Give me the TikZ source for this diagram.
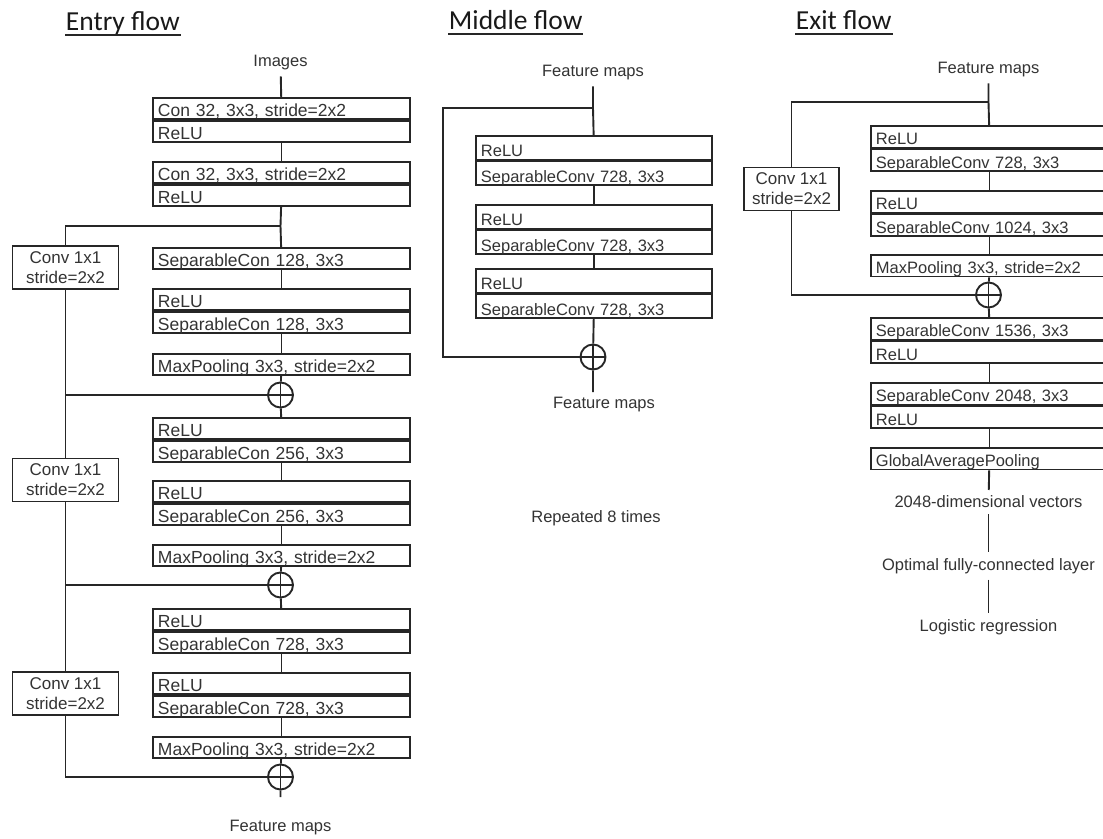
\documentclass[tikz,border=0pt]{standalone}
\usepackage{fontspec}
\setmainfont{Liberation Sans}
\newfontfamily\titlefont{Carlito}
\usetikzlibrary{positioning}

\begin{document}
\begin{tikzpicture}[x=1pt,y=-1pt,line width=1.9pt,color=black!85,text=black!80,
    ecell/.style={draw,anchor=north west,text width=247pt,align=left,inner xsep=5pt,inner ysep=1pt,
        text height=17.5pt,text depth=1.5pt,font=\fontsize{17.5}{20}\selectfont},
    mcell/.style={draw,anchor=north west,text width=226pt,align=left,inner xsep=5pt,inner ysep=1pt,
        text height=20pt,text depth=1.5pt,font=\fontsize{16.5}{19}\selectfont},
    xcell/.style={draw,anchor=north west,text width=227pt,align=left,inner xsep=5pt,inner ysep=1pt,
        text height=18pt,text depth=1.5pt,font=\fontsize{16.5}{19}\selectfont},
    conv/.style={draw,align=center,minimum width=#1,minimum height=43pt,inner sep=1pt,
        font=\fontsize{17}{20}\selectfont},
    add/.style={draw,circle,minimum size=25pt,inner sep=0pt,
        path picture={\draw (path picture bounding box.north) -- (path picture bounding box.south)
            (path picture bounding box.west) -- (path picture bounding box.east);}},
    lbl/.style={font=\fontsize{16.5}{19}\selectfont,inner xsep=2pt,inner ysep=5pt},
    title/.style={font=\titlefont\fontsize{27.5}{30}\selectfont,anchor=base west,inner sep=0pt,text=black!90},
    uline/.style={line width=1.4pt}]
\useasboundingbox (0,0) rectangle (1103,838);
\clip (0,0) rectangle (1103,838);

% entry flow
\node[title] (tentry) at (65,30) {Entry flow};
\draw[uline] ([yshift=-5pt]tentry.base west) -- ([yshift=-5pt]tentry.base east);
\node[lbl] (img) at (280.5,63) {Images};
\node[ecell] (b1a) at (152,97) {Con 32, 3x3, stride=2x2};
\node[ecell,below=0pt of b1a] (b1b) {ReLU};
\node[ecell] (b2a) at (152,161) {Con 32, 3x3, stride=2x2};
\node[ecell,below=0pt of b2a] (b2b) {ReLU};
\coordinate (j1) at (280.5,226);
\node[ecell] (s1) at (152,247) {SeparableCon 128, 3x3};
\node[ecell] (b3a) at (152,288) {ReLU};
\node[ecell,below=0pt of b3a] (b3b) {SeparableCon 128, 3x3};
\node[ecell] (mp1) at (152,353) {MaxPooling 3x3, stride=2x2};
\node[add] (add1) at (280.5,395) {};
\node[ecell] (b4a) at (152,417) {ReLU};
\node[ecell,below=0pt of b4a] (b4b) {SeparableCon 256, 3x3};
\node[ecell] (b5a) at (152,480) {ReLU};
\node[ecell,below=0pt of b5a] (b5b) {SeparableCon 256, 3x3};
\node[ecell] (mp2) at (152,544) {MaxPooling 3x3, stride=2x2};
\node[add] (add2) at (280.5,585) {};
\node[ecell] (b6a) at (152,608) {ReLU};
\node[ecell,below=0pt of b6a] (b6b) {SeparableCon 728, 3x3};
\node[ecell] (b7a) at (152,672) {ReLU};
\node[ecell,below=0pt of b7a] (b7b) {SeparableCon 728, 3x3};
\node[ecell] (mp3) at (152,736) {MaxPooling 3x3, stride=2x2};
\node[add] (add3) at (280.5,777) {};
\coordinate (eend) at (280.5,797);
\node[lbl] (fmE) at (280.5,828) {Feature maps};
\node[conv=106pt] (cv1) at (65.5,267.5) {Conv 1x1\\stride=2x2};
\node[conv=106pt] (cv2) at (65.5,480) {Conv 1x1\\stride=2x2};
\node[conv=106pt] (cv3) at (65.5,693.5) {Conv 1x1\\stride=2x2};

\draw (img) -- (b1a);
\draw (b1b) -- (b2a);
\draw (b2b) -- (j1) -- (s1);
\draw (j1) -| (cv1);
\draw (s1) -- (b3a);
\draw (b3b) -- (mp1);
\draw (mp1) -- (add1) -- (b4a);
\draw (cv1) |- (add1);
\draw (cv1) -- (cv2);
\draw (b4b) -- (b5a);
\draw (b5b) -- (mp2);
\draw (mp2) -- (add2) -- (b6a);
\draw (cv2) |- (add2);
\draw (cv2) -- (cv3);
\draw (b6b) -- (b7a);
\draw (b7b) -- (mp3);
\draw (mp3) -- (add3) -- (eend);
\draw (cv3) |- (add3);

% middle flow
\node[title] (tmid) at (448,29) {Middle flow};
\draw[uline] ([yshift=-5pt]tmid.base west) -- ([yshift=-5pt]tmid.base east);
\node[lbl] (fm2) at (593,73) {Feature maps};
\coordinate (j2) at (593,108);
\node[mcell] (m1a) at (475,135) {ReLU};
\node[mcell,below=0pt of m1a] (m1b) {SeparableConv 728, 3x3};
\node[mcell] (m2a) at (475,204) {ReLU};
\node[mcell,below=0pt of m2a] (m2b) {SeparableConv 728, 3x3};
\node[mcell] (m3a) at (475,268) {ReLU};
\node[mcell,below=0pt of m3a] (m3b) {SeparableConv 728, 3x3};
\node[add] (add4) at (593,357) {};
\coordinate (mskip) at (443,357);
\coordinate (mend) at (593,392);
\node[lbl] (fm3) at (604,405) {Feature maps};
\node[lbl] (rep) at (596,518) {Repeated 8 times};

\draw (fm2) -- (j2) -- (m1a);
\draw (j2) -| (mskip) -- (add4);
\draw (m1b) -- (m2a);
\draw (m2b) -- (m3a);
\draw (m3b) -- (add4) -- (mend);

% exit flow
\node[title] (texit) at (795,29) {Exit flow};
\draw[uline] ([yshift=-5pt]texit.base west) -- ([yshift=-5pt]texit.base east);
\node[lbl] (fm4) at (988.5,70) {Feature maps};
\coordinate (j3) at (988.5,102);
\node[xcell] (e1a) at (870,125) {ReLU};
\node[xcell,below=0pt of e1a] (e1b) {SeparableConv 728, 3x3};
\node[xcell] (e2a) at (870,190) {ReLU};
\node[xcell,below=0pt of e2a] (e2b) {SeparableConv 1024, 3x3};
\node[xcell] (emp) at (870,254) {MaxPooling 3x3, stride=2x2};
\node[add] (add5) at (988.5,295) {};
\node[conv=95pt] (cv4) at (791.5,189) {Conv 1x1\\stride=2x2};
\node[xcell] (e3a) at (870,317) {SeparableConv 1536, 3x3};
\node[xcell,below=0pt of e3a] (e3b) {ReLU};
\node[xcell] (e4a) at (870,382) {SeparableConv 2048, 3x3};
\node[xcell,below=0pt of e4a] (e4b) {ReLU};
\node[xcell] (gap) at (870,447) {GlobalAveragePooling};
\node[lbl] (vec) at (988.5,502) {2048-dimensional vectors};
\node[lbl] (fc) at (988.5,566) {Optimal fully-connected layer};
\node[lbl] (lr) at (988.5,627) {Logistic regression};

\draw (fm4) -- (j3) -- (e1a);
\draw (j3) -| (cv4);
\draw (cv4) |- (add5);
\draw (e1b) -- (e2a);
\draw (e2b) -- (emp);
\draw (emp) -- (add5) -- (e3a);
\draw (e3b) -- (e4a);
\draw (e4b) -- (gap);
\draw (gap) -- (vec);
\draw (vec) -- (fc);
\draw (fc) -- (lr);
\end{tikzpicture}
\end{document}
